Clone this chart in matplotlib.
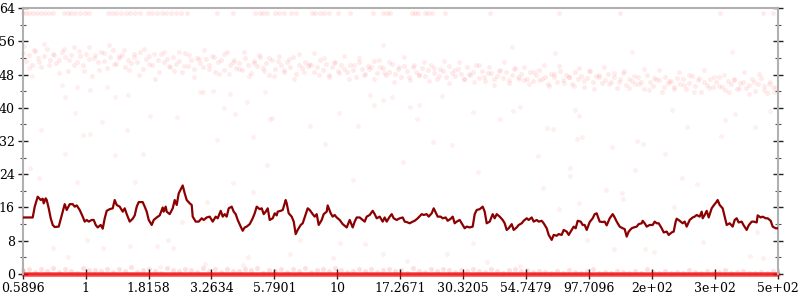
import numpy as np
import matplotlib
matplotlib.use("Agg")
import matplotlib.pyplot as plt
from matplotlib.ticker import MultipleLocator

# x axis is the sample index, labelled with the value at evenly spaced positions
n_idx = 755
x_tick_labels = ['0.5896', '1', '1.8158', '3.2634', '5.7901', '10', '17.2671',
                 '30.3205', '54.7479', '97.7096', '2e+02', '3e+02', '5e+02']

# smoothed line (index, value)
line_idx = [0, 10, 12, 15, 18, 20, 21, 23, 24, 26, 28, 30, 32, 36, 40, 42, 44, 47, 50, 52,
            54, 57, 60, 62, 64, 66, 69, 71, 73, 75, 78, 80, 82, 84, 87, 90, 92, 94, 97, 100,
            102, 104, 107, 110, 112, 114, 116, 120, 122, 124, 126, 129, 131, 134, 137, 140, 141, 143, 144, 147,
            150, 152, 154, 156, 159, 160, 162, 164, 167, 169, 170, 173, 176, 179, 181, 184, 187, 190, 193, 195,
            198, 200, 202, 204, 206, 209, 211, 213, 215, 218, 220, 222, 224, 227, 230, 232, 234, 237, 239, 241,
            243, 245, 247, 250, 252, 254, 255, 258, 260, 263, 264, 266, 269, 271, 273, 275, 278, 280, 283, 285,
            287, 290, 292, 294, 296, 299, 301, 304, 305, 308, 310, 312, 314, 317, 320, 324, 327, 330, 332, 334,
            337, 340, 342, 344, 347, 350, 352, 354, 357, 360, 362, 364, 367, 369, 371, 374, 377, 380, 382, 384,
            387, 390, 392, 395, 399, 401, 404, 406, 409, 411, 413, 415, 418, 420, 423, 425, 428, 430, 432, 434,
            437, 440, 442, 444, 447, 450, 452, 454, 457, 460, 462, 464, 467, 470, 472, 474, 477, 480, 482, 484,
            486, 489, 491, 494, 496, 499, 501, 504, 506, 509, 511, 514, 516, 519, 521, 524, 526, 529, 531, 534,
            536, 539, 541, 544, 546, 549, 551, 553, 555, 558, 560, 562, 564, 567, 570, 572, 574, 577, 580, 582,
            584, 587, 590, 592, 594, 597, 600, 602, 604, 606, 609, 611, 614, 616, 619, 620, 622, 624, 627, 630,
            632, 634, 636, 639, 641, 644, 646, 649, 651, 653, 654, 657, 660, 662, 664, 667, 670, 672, 674, 677,
            679, 680, 682, 684, 686, 689, 691, 694, 695, 697, 700, 702, 704, 707, 710, 712, 714, 716, 719, 721,
            724, 726, 729, 731, 734, 735, 738, 740, 743, 745, 748, 750, 753, 755]
line_val = [13.6, 13.6, 16.2, 18.6, 17.8, 18.1, 17.0, 18.2, 17.8, 15.8, 13.4, 11.8, 11.3, 11.4, 15.0, 16.8, 15.4, 16.8, 16.8, 16.2,
            16.5, 15.4, 13.8, 12.6, 13.0, 12.6, 13.0, 13.0, 11.8, 11.2, 11.8, 10.9, 13.4, 15.2, 15.6, 15.8, 17.8, 16.6, 16.2, 15.0,
            15.8, 14.4, 12.6, 13.3, 14.1, 16.2, 17.3, 17.3, 16.2, 15.0, 13.0, 11.8, 13.0, 13.6, 14.1, 16.0, 15.0, 16.2, 15.0, 14.4,
            15.8, 17.8, 16.6, 19.4, 20.8, 21.3, 19.4, 17.8, 17.0, 16.6, 13.8, 12.6, 12.6, 13.4, 13.0, 13.6, 13.8, 12.6, 13.8, 13.4,
            15.2, 13.8, 14.4, 13.8, 15.8, 16.2, 15.0, 14.4, 13.0, 11.4, 10.4, 11.2, 11.4, 12.0, 13.4, 14.6, 16.2, 15.6, 15.8, 14.4,
            15.0, 15.8, 13.0, 13.4, 14.6, 14.1, 15.0, 15.2, 15.4, 17.8, 17.0, 14.6, 13.8, 12.6, 9.6, 10.6, 11.8, 12.2, 14.4, 15.8,
            15.4, 14.4, 13.8, 14.4, 11.8, 13.0, 14.4, 15.0, 16.5, 14.6, 13.8, 14.2, 13.6, 13.0, 12.0, 11.2, 13.0, 11.2, 12.6, 13.6,
            13.6, 13.0, 12.6, 13.8, 14.2, 15.2, 14.4, 13.4, 13.8, 12.6, 13.6, 12.6, 13.8, 14.4, 13.4, 13.0, 13.4, 13.6, 12.6, 12.5,
            12.2, 12.6, 12.8, 13.4, 14.4, 14.2, 14.4, 13.8, 14.6, 15.8, 14.8, 13.8, 13.8, 13.4, 13.6, 12.8, 13.3, 13.8, 12.2, 12.6,
            13.0, 11.8, 11.0, 11.4, 11.2, 11.4, 14.4, 15.4, 15.6, 16.2, 15.0, 12.2, 12.6, 14.4, 13.4, 14.4, 13.8, 13.0, 12.2, 10.6,
            11.0, 12.0, 10.6, 11.2, 11.8, 12.2, 12.8, 13.4, 13.0, 13.6, 12.6, 13.0, 12.6, 12.8, 12.2, 11.0, 9.4, 8.2, 9.4, 9.2,
            9.6, 9.4, 10.6, 10.2, 9.4, 10.6, 11.4, 11.0, 12.8, 12.6, 11.8, 11.8, 10.6, 12.5, 13.4, 14.4, 14.6, 12.6, 12.5, 12.6,
            11.7, 13.4, 14.4, 13.6, 12.6, 11.4, 11.0, 10.8, 9.0, 10.2, 11.0, 11.2, 11.4, 12.0, 12.2, 12.8, 12.2, 11.4, 11.8, 11.8,
            12.6, 12.2, 12.2, 11.0, 10.0, 10.2, 9.4, 10.0, 10.2, 12.6, 13.3, 12.8, 12.2, 12.6, 11.4, 13.0, 13.6, 13.8, 14.2, 13.8,
            15.0, 13.4, 14.2, 15.2, 13.6, 15.8, 16.5, 17.4, 17.8, 16.6, 15.8, 13.8, 11.8, 12.2, 11.4, 13.0, 13.4, 12.4, 12.6, 11.7,
            10.6, 11.7, 12.6, 12.6, 12.4, 14.1, 13.6, 13.8, 13.4, 13.4, 12.8, 11.4, 11.0, 11.0]

# main band of samples, one every 3 indices
band_val = [53.1, 51.2, 52.8, 50.4, 53.6, 52.0, 49.7, 52.5, 54.1, 51.6, 52.9, 50.8,
            51.4, 53.3, 52.2, 48.9, 52.7, 54.6, 51.0, 52.4, 50.2, 53.0, 51.8, 47.6,
            52.6, 50.9, 53.4, 51.3, 49.5, 52.1, 53.8, 50.6, 51.9, 52.8, 49.9, 51.5,
            50.7, 52.9, 51.1, 53.5, 49.3, 51.8, 52.4, 50.2, 46.8, 51.6, 53.0, 50.9,
            51.7, 49.8, 52.3, 50.5, 51.2, 48.6, 53.1, 50.0, 51.4, 49.4, 52.0, 50.8,
            49.9, 51.8, 50.3, 52.5, 48.7, 50.9, 51.5, 49.2, 53.4, 50.4, 51.1, 49.6,
            50.8, 49.1, 51.9, 50.2, 48.4, 51.3, 50.0, 52.2, 49.5, 50.7, 47.9, 51.6,
            49.3, 51.2, 50.4, 48.7, 50.9, 49.8, 52.1, 48.2, 50.3, 49.6, 51.0, 50.1,
            50.2, 48.5, 49.9, 51.4, 49.1, 50.6, 47.8, 49.7, 51.0, 48.9, 50.3, 49.4,
            48.6, 50.4, 49.0, 47.5, 50.9, 49.3, 48.1, 50.0, 49.7, 51.3, 48.4, 49.8,
            49.5, 47.9, 48.7, 50.6, 48.2, 49.3, 47.4, 50.1, 48.9, 46.6, 49.8, 48.5,
            48.0, 49.6, 47.7, 49.1, 50.4, 48.3, 46.9, 49.4, 48.8, 47.5, 50.0, 48.4,
            47.6, 49.3, 48.1, 46.8, 49.7, 47.9, 48.6, 50.2, 47.2, 48.9, 46.5, 48.3,
            48.4, 46.9, 47.6, 49.2, 47.1, 48.7, 45.9, 47.8, 49.5, 47.3, 48.1, 46.6,
            47.0, 48.6, 46.4, 47.9, 49.1, 46.8, 47.5, 45.6, 48.2, 47.3, 46.1, 48.8,
            46.7, 48.0, 47.4, 45.8, 48.5, 46.9, 47.7, 44.9, 47.1, 48.9, 46.3, 47.6,
            47.3, 45.9, 46.6, 48.1, 46.2, 47.5, 44.8, 46.9, 48.4, 45.5, 47.0, 46.4,
            45.8, 47.4, 46.1, 44.6, 47.8, 46.3, 45.2, 47.0, 46.6, 43.9, 47.5, 45.9,
            46.5, 45.1, 47.2, 45.7, 46.9, 44.4, 46.0, 47.6, 45.3, 46.7, 43.8, 46.2,
            45.4, 46.8, 44.9, 46.2, 47.3, 45.0, 44.2, 46.5, 45.7, 47.0, 44.6, 45.9,
            46.1, 44.7, 45.5, 46.9, 44.0, 45.8, 47.1, 45.2, 43.6, 46.3, 45.0, 44.8]

# second, wider spread of band samples, one every 5 indices
band2_val = [54.8, 49.6, 53.9, 51.0, 55.3, 50.2, 52.7, 48.4, 54.2, 51.5,
             50.3, 53.6, 48.9, 54.5, 51.9, 49.1, 53.2, 55.0, 50.6, 52.4,
             53.8, 49.0, 52.2, 47.9, 54.1, 50.5, 52.9, 48.7, 53.3, 50.1,
             48.8, 53.4, 50.0, 52.6, 47.5, 51.7, 54.0, 49.3, 52.3, 48.2,
             52.9, 48.1, 51.6, 49.4, 53.5, 47.6, 50.8, 52.7, 48.9, 51.9,
             47.7, 52.4, 49.0, 51.8, 46.9, 52.9, 48.5, 50.6, 53.1, 47.9,
             51.9, 47.4, 50.7, 48.3, 52.5, 46.8, 50.2, 52.0, 47.9, 49.4,
             46.9, 51.5, 48.4, 50.9, 46.3, 49.8, 52.1, 47.5, 50.4, 48.0,
             50.9, 46.5, 49.6, 47.6, 51.3, 45.9, 49.1, 51.0, 46.8, 48.2,
             46.2, 50.4, 47.3, 49.8, 45.4, 48.9, 50.9, 46.6, 49.4, 47.0,
             49.9, 45.6, 48.5, 46.7, 50.4, 45.2, 48.1, 50.0, 46.0, 47.3,
             45.3, 49.5, 46.4, 48.8, 44.6, 47.9, 49.9, 45.7, 48.4, 46.2,
             48.9, 44.8, 47.6, 45.7, 49.4, 44.2, 47.2, 49.0, 45.1, 46.4,
             44.5, 48.6, 45.5, 47.9, 43.7, 47.1, 49.1, 44.8, 47.5, 45.3,
             48.0, 43.9, 46.7, 44.8, 48.5, 43.4, 46.3, 48.2, 44.2, 45.6,
             43.9]

# samples sitting at the top (about 62.9)
top_val = 62.9
top_idx = [0, 3, 6, 10, 14, 18, 22, 26, 30, 41, 45, 48, 52, 57, 62, 66, 85, 89, 93, 98,
           103, 107, 112, 117, 125, 129, 134, 139, 143, 148, 153, 158, 164, 194, 210, 232, 237, 240, 244, 252,
           256, 261, 268, 273, 289, 292, 297, 301, 306, 315, 327, 350, 360, 364, 367, 389, 392, 395, 402, 405,
           409, 422, 467, 536, 597, 697, 740, 750]

# scattered outliers (index, value)
out_idx = [9, 39, 42, 54, 67, 18, 52, 60, 67, 79, 84, 92, 105, 104, 127, 154, 177, 180, 190, 194,
           201, 207, 212, 224, 230, 247, 242, 249, 287, 302, 316, 335, 347, 351, 360, 369, 387, 394, 396, 410,
           429, 419, 450, 477, 490, 497, 489, 360, 532, 609, 709, 552, 556, 524, 530, 554, 559, 589, 614, 620,
           649, 664, 698, 702, 712, 732, 747, 42, 92, 120, 7, 16, 54, 112, 64, 30, 45, 80, 107, 145,
           150, 134, 184, 182, 210, 230, 244, 159, 225, 220, 182, 137, 515, 642, 612, 547, 583, 599, 600, 659,
           674, 556, 536, 564, 591, 622, 631, 727, 740, 734, 651, 680, 277, 317, 342, 360, 384, 424, 450, 464,
           497, 267, 310, 547, 380, 455, 330, 520]
out_val = [47.6, 45.5, 42.6, 45.0, 44.3, 34.6, 38.7, 33.4, 33.6, 36.6, 45.0, 42.6, 43.0, 34.6, 38.0, 37.8, 43.7, 43.7, 44.0, 32.2,
           39.9, 43.4, 38.6, 41.5, 33.0, 37.4, 43.8, 37.5, 35.6, 31.3, 38.7, 35.6, 43.1, 40.6, 41.8, 42.6, 40.3, 37.2, 40.6, 31.8,
           31.0, 42.8, 39.0, 37.4, 39.2, 40.1, 54.6, 55.0, 53.1, 53.5, 53.5, 39.5, 38.0, 35.1, 34.8, 32.6, 33.0, 30.6, 32.1, 31.3,
           39.5, 35.4, 33.2, 37.0, 38.6, 35.4, 39.3, 28.9, 28.6, 28.9, 25.5, 23.1, 22.1, 22.1, 8.2, 6.3, 4.1, 6.3, 6.7, 8.2,
           6.3, 6.7, 17.3, 13.0, 21.8, 19.8, 26.2, 12.6, 4.1, 2.2, 2.4, 1.8, 28.5, 28.9, 25.0, 23.5, 20.2, 19.6, 18.1, 23.0,
           21.7, 17.2, 15.6, 8.2, 6.1, 5.9, 5.4, 4.4, 3.9, 10.2, 16.1, 7.8, 8.2, 7.4, 7.1, 4.9, 3.1, 4.9, 7.4, 2.9,
           2.0, 4.7, 3.9, 25.5, 27.0, 24.5, 22.5, 20.8]

# small values just above zero, one every 6 indices
low_val = [0.9, 1.3, 0.4, 1.1, 0.7, 1.5, 0.5, 1.2, 0.8, 0.3, 1.4, 0.9,
           1.0, 0.6, 1.3, 0.4, 1.1, 0.8, 1.6, 0.5, 0.9, 1.2, 0.7, 0.3,
           1.4, 1.0, 0.6, 1.2, 0.9, 0.4, 1.5, 0.7, 1.1, 0.5, 1.3, 0.8,
           0.6, 1.2, 0.9, 1.4, 0.3, 1.0, 0.7, 1.3, 0.5, 1.1, 0.8, 1.5,
           0.4, 0.9, 1.2, 0.6, 1.4, 1.0, 0.5, 0.8, 1.3, 0.7, 1.1, 0.4,
           0.9, 1.2, 0.6, 1.0, 0.3, 1.4, 0.8, 0.5, 1.1, 0.7, 1.2, 0.9,
           0.4, 1.0, 0.6, 1.3, 0.8, 0.5, 1.1, 0.7, 0.3, 0.9, 1.2, 0.6,
           1.0, 0.4, 0.8,
           0.5, 0.2, 0.7, 0.3, 0.9, 0.4, 0.2, 0.6, 1.1, 0.3, 0.5, 0.2,
           0.8, 0.4, 0.3, 0.6, 0.2, 1.2, 0.4, 0.3, 0.7, 0.2, 0.5, 0.3,
           0.9, 0.4, 0.2, 0.6, 0.3, 0.5, 1.0, 0.2, 0.4, 0.7, 0.3, 0.2,
           0.5, 0.3, 0.6]

band_idx = np.arange(0, n_idx, 3)
band2_idx = np.arange(1, n_idx, 5)
low_idx = np.arange(0, n_idx, 6)
zero_idx = np.arange(0, n_idx + 1)   # the many samples that are exactly 0

plt.rcParams['font.family'] = 'DejaVu Serif'
fig = plt.figure(figsize=(8, 3), dpi=100)
ax = fig.add_axes([0.0284, 0.0867, 0.9437, 0.8866])

dot = dict(color='red', s=13, linewidths=0, clip_on=False)
ax.scatter(zero_idx, np.zeros(len(zero_idx)), alpha=0.25, zorder=2, **dot)
ax.scatter(low_idx, low_val, alpha=0.12, **dot)
ax.scatter(band_idx, band_val, alpha=0.08, **dot)
ax.scatter(band2_idx, band2_val, alpha=0.07, **dot)
ax.scatter(top_idx, [top_val] * len(top_idx), alpha=0.08, **dot)
ax.scatter(out_idx, out_val, alpha=0.06, **dot)

ax.plot(line_idx, line_val, color='#8b0000', lw=1.6, zorder=3)

ax.set_xlim(0, n_idx)
ax.set_ylim(0, 64)
ax.set_xticks(np.linspace(0, n_idx, 13))
ax.set_xticklabels(x_tick_labels)
ax.yaxis.set_major_locator(MultipleLocator(8))
ax.yaxis.set_minor_locator(MultipleLocator(4))

for side in ['left', 'right', 'top', 'bottom']:
    ax.spines[side].set_color('#b0b0b0')
    ax.spines[side].set_linewidth(1.5)
ax.spines['bottom'].set_zorder(1)

ax.tick_params(axis='y', which='major', direction='inout', length=7.5, width=1.0,
               color='#222222', labelsize=9, pad=2, right=True)
ax.tick_params(axis='y', which='minor', direction='inout', length=4, width=0.8,
               color='#555555', right=True)
ax.tick_params(axis='x', which='major', direction='inout', length=7.5, width=1.0,
               color='#222222', labelsize=9, pad=2, top=False)

fig.savefig('out.png', dpi=100)
